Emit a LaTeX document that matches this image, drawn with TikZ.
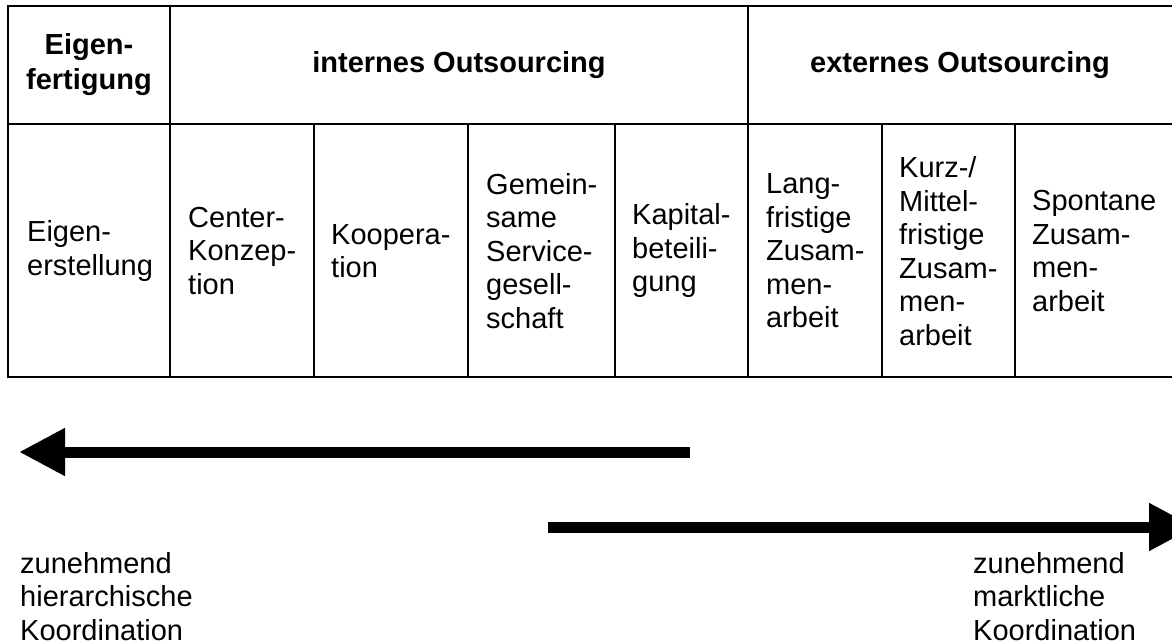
\documentclass[tikz,border=0pt]{standalone}
\usepackage{fontspec}
\setmainfont{Liberation Sans}
\usetikzlibrary{arrows.meta}

\begin{document}
\begin{tikzpicture}[x=1pt,y=-1pt,
  tabline/.style={line width=2pt,line cap=rect},
  headcell/.style={font=\fontsize{29}{35}\selectfont\bfseries,align=center,inner sep=0pt},
  cell/.style={font=\fontsize{29}{33.5}\selectfont,align=left,anchor=west,inner sep=0pt},
  note/.style={font=\fontsize{29}{33.5}\selectfont,align=left,anchor=north west,inner sep=0pt},
  bigarrow/.style={line width=11pt,-{Triangle[length=46pt,width=45pt]}}
]
\useasboundingbox (0,0) rectangle (1172,644);
% table frame
\draw[tabline] (1180,6) -- (8,6) -- (8,377) -- (1180,377);
\draw[tabline] (8,124) -- (1180,124);
\foreach \x in {170,748} \draw[tabline] (\x,6) -- (\x,377);
\foreach \x in {314,468,615,882,1015} \draw[tabline] (\x,124) -- (\x,377);

% header row
\node[headcell] (eigen) at (89,65) {Eigen-\\fertigung};
\node[headcell] (intern) at (459,65) {internes Outsourcing};
\node[headcell] (extern) at (960,65) {externes Outsourcing};

% lower row
\node[cell] (erst) at (27,251) {Eigen-\\erstellung};
\node[cell] (center) at (188,251) {Center-\\Konzep-\\tion};
\node[cell] (koop) at (331,251) {Koopera-\\tion};
\node[cell] (gemein) at (486,251) {Gemein-\\same\\Service-\\gesell-\\schaft};
\node[cell] (kapital) at (632,251) {Kapital-\\beteili-\\gung};
\node[cell] (lang) at (766,251) {Lang-\\fristige\\Zusam-\\men-\\arbeit};
\node[cell] (kurz) at (899,251) {Kurz-/\\Mittel-\\fristige\\Zusam-\\men-\\arbeit};
\node[cell] (spontan) at (1032,251) {Spontane\\Zusam-\\men-\\arbeit};

% arrows
\coordinate (lstart) at (690,452);
\coordinate (lend) at (19,452);
\draw[bigarrow] (lstart) -- (lend);
\coordinate (rstart) at (548,527);
\coordinate (rend) at (1195,527);
\draw[bigarrow] (rstart) -- (rend);

\node[note] (hier) at (20,552) {zunehmend\\hierarchische\\Koordination};
\node[note] (markt) at (973,552) {zunehmend\\marktliche\\Koordination};
\end{tikzpicture}
\end{document}
